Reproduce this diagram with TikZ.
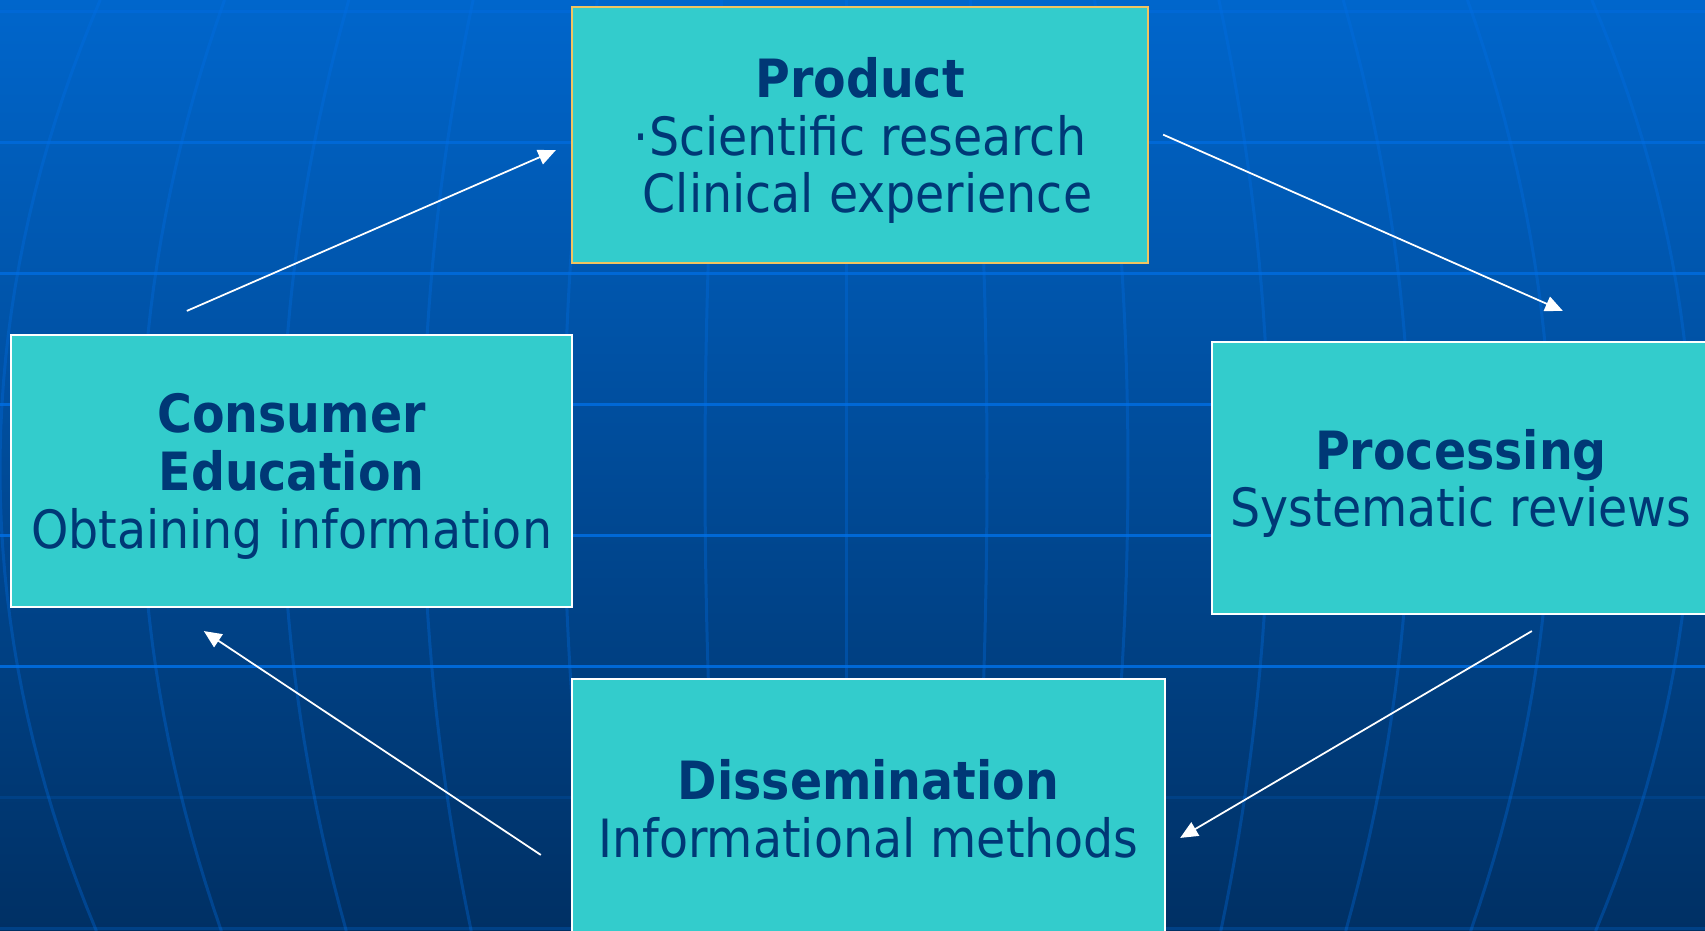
\documentclass[tikz,border=0pt]{standalone}
\usepackage{fontspec}
\setmainfont{DejaVu Sans}[FakeStretch=0.9]
\usepackage{tikz}
\usetikzlibrary{positioning, arrows.meta}

\definecolor{bgtop}{RGB}{0,102,204}
\definecolor{bgbottom}{RGB}{0,48,100}
\definecolor{gridblue}{RGB}{0,104,214}
\definecolor{meridianblue}{RGB}{0,112,232}
\definecolor{boxteal}{RGB}{51,204,204}
\definecolor{boxgold}{RGB}{240,196,96}
\definecolor{textnavy}{RGB}{0,56,118}

\begin{document}
\begin{tikzpicture}[x=0.01cm, y=-0.01cm, >={Triangle[length=5pt,width=4.4pt]},
						block/.style={rectangle, draw=white, line width=0.6pt, fill=boxteal, text=textnavy, align=center,
									inner sep=0pt, outer sep=0pt, text depth=0pt, font=\fontsize{15}{16.4}\selectfont},
						flow/.style={->, color=white, line width=0.5pt},
						grid line/.style={draw=gridblue, line width=0.03cm},
						meridian/.style={draw=meridianblue, draw opacity=0.32, line width=0.03cm}]

	\useasboundingbox (0,0) rectangle (1705,931);
	\clip (0,0) rectangle (1705,931);

	\shade[top color=bgtop, bottom color=bgbottom] (0,0) rectangle (1705,931);
	\foreach \h in {12,143,274,405,536,667}
		\draw[grid line] (0,\h) -- (1705,\h);
	\foreach \h in {798,929}
		\draw[grid line, draw=gridblue!30!bgbottom] (0,\h) -- (1705,\h);
	\foreach \k in {0,...,12}
		\draw[meridian] plot[domain=0:931, samples=40, variable=\t] ({141*\k + 16*(6-\k)*((\t-470)/460)^2}, \t);

	\node[block, draw=boxgold, minimum width=5.76cm, minimum height=2.565cm] (prod) at (860,135)
		{\textbf{Product}\\·Scientific research\\\hspace*{0.15cm}Clinical experience};
	\node[block, minimum width=5.61cm, minimum height=2.72cm] (cons) at (291.5,471)
		{\textbf{Consumer}\\\textbf{Education}\\Obtaining information};
	\node[block, minimum width=4.98cm, minimum height=2.72cm] (proc) at (1461,478)
		{\textbf{Processing}\\Systematic reviews};
	\node[block, minimum width=5.93cm, minimum height=2.59cm] (diss) at (868.5,808.5)
		{\textbf{Dissemination}\\Informational methods};

	\draw[flow] ([shift={(176,-24)}]cons.north west) -- ([shift={(-16,143.5)}]prod.north west);
	\draw[flow] ([shift={(15,128)}]prod.north east) -- ([shift={(351,-31)}]proc.north west);
	\draw[flow] ([shift={(320,17)}]proc.south west) -- ([shift={(15,159)}]diss.north east);
	\draw[flow] ([shift={(-31,176)}]diss.north west) -- ([shift={(193,24)}]cons.south west);

\end{tikzpicture}
\end{document}
